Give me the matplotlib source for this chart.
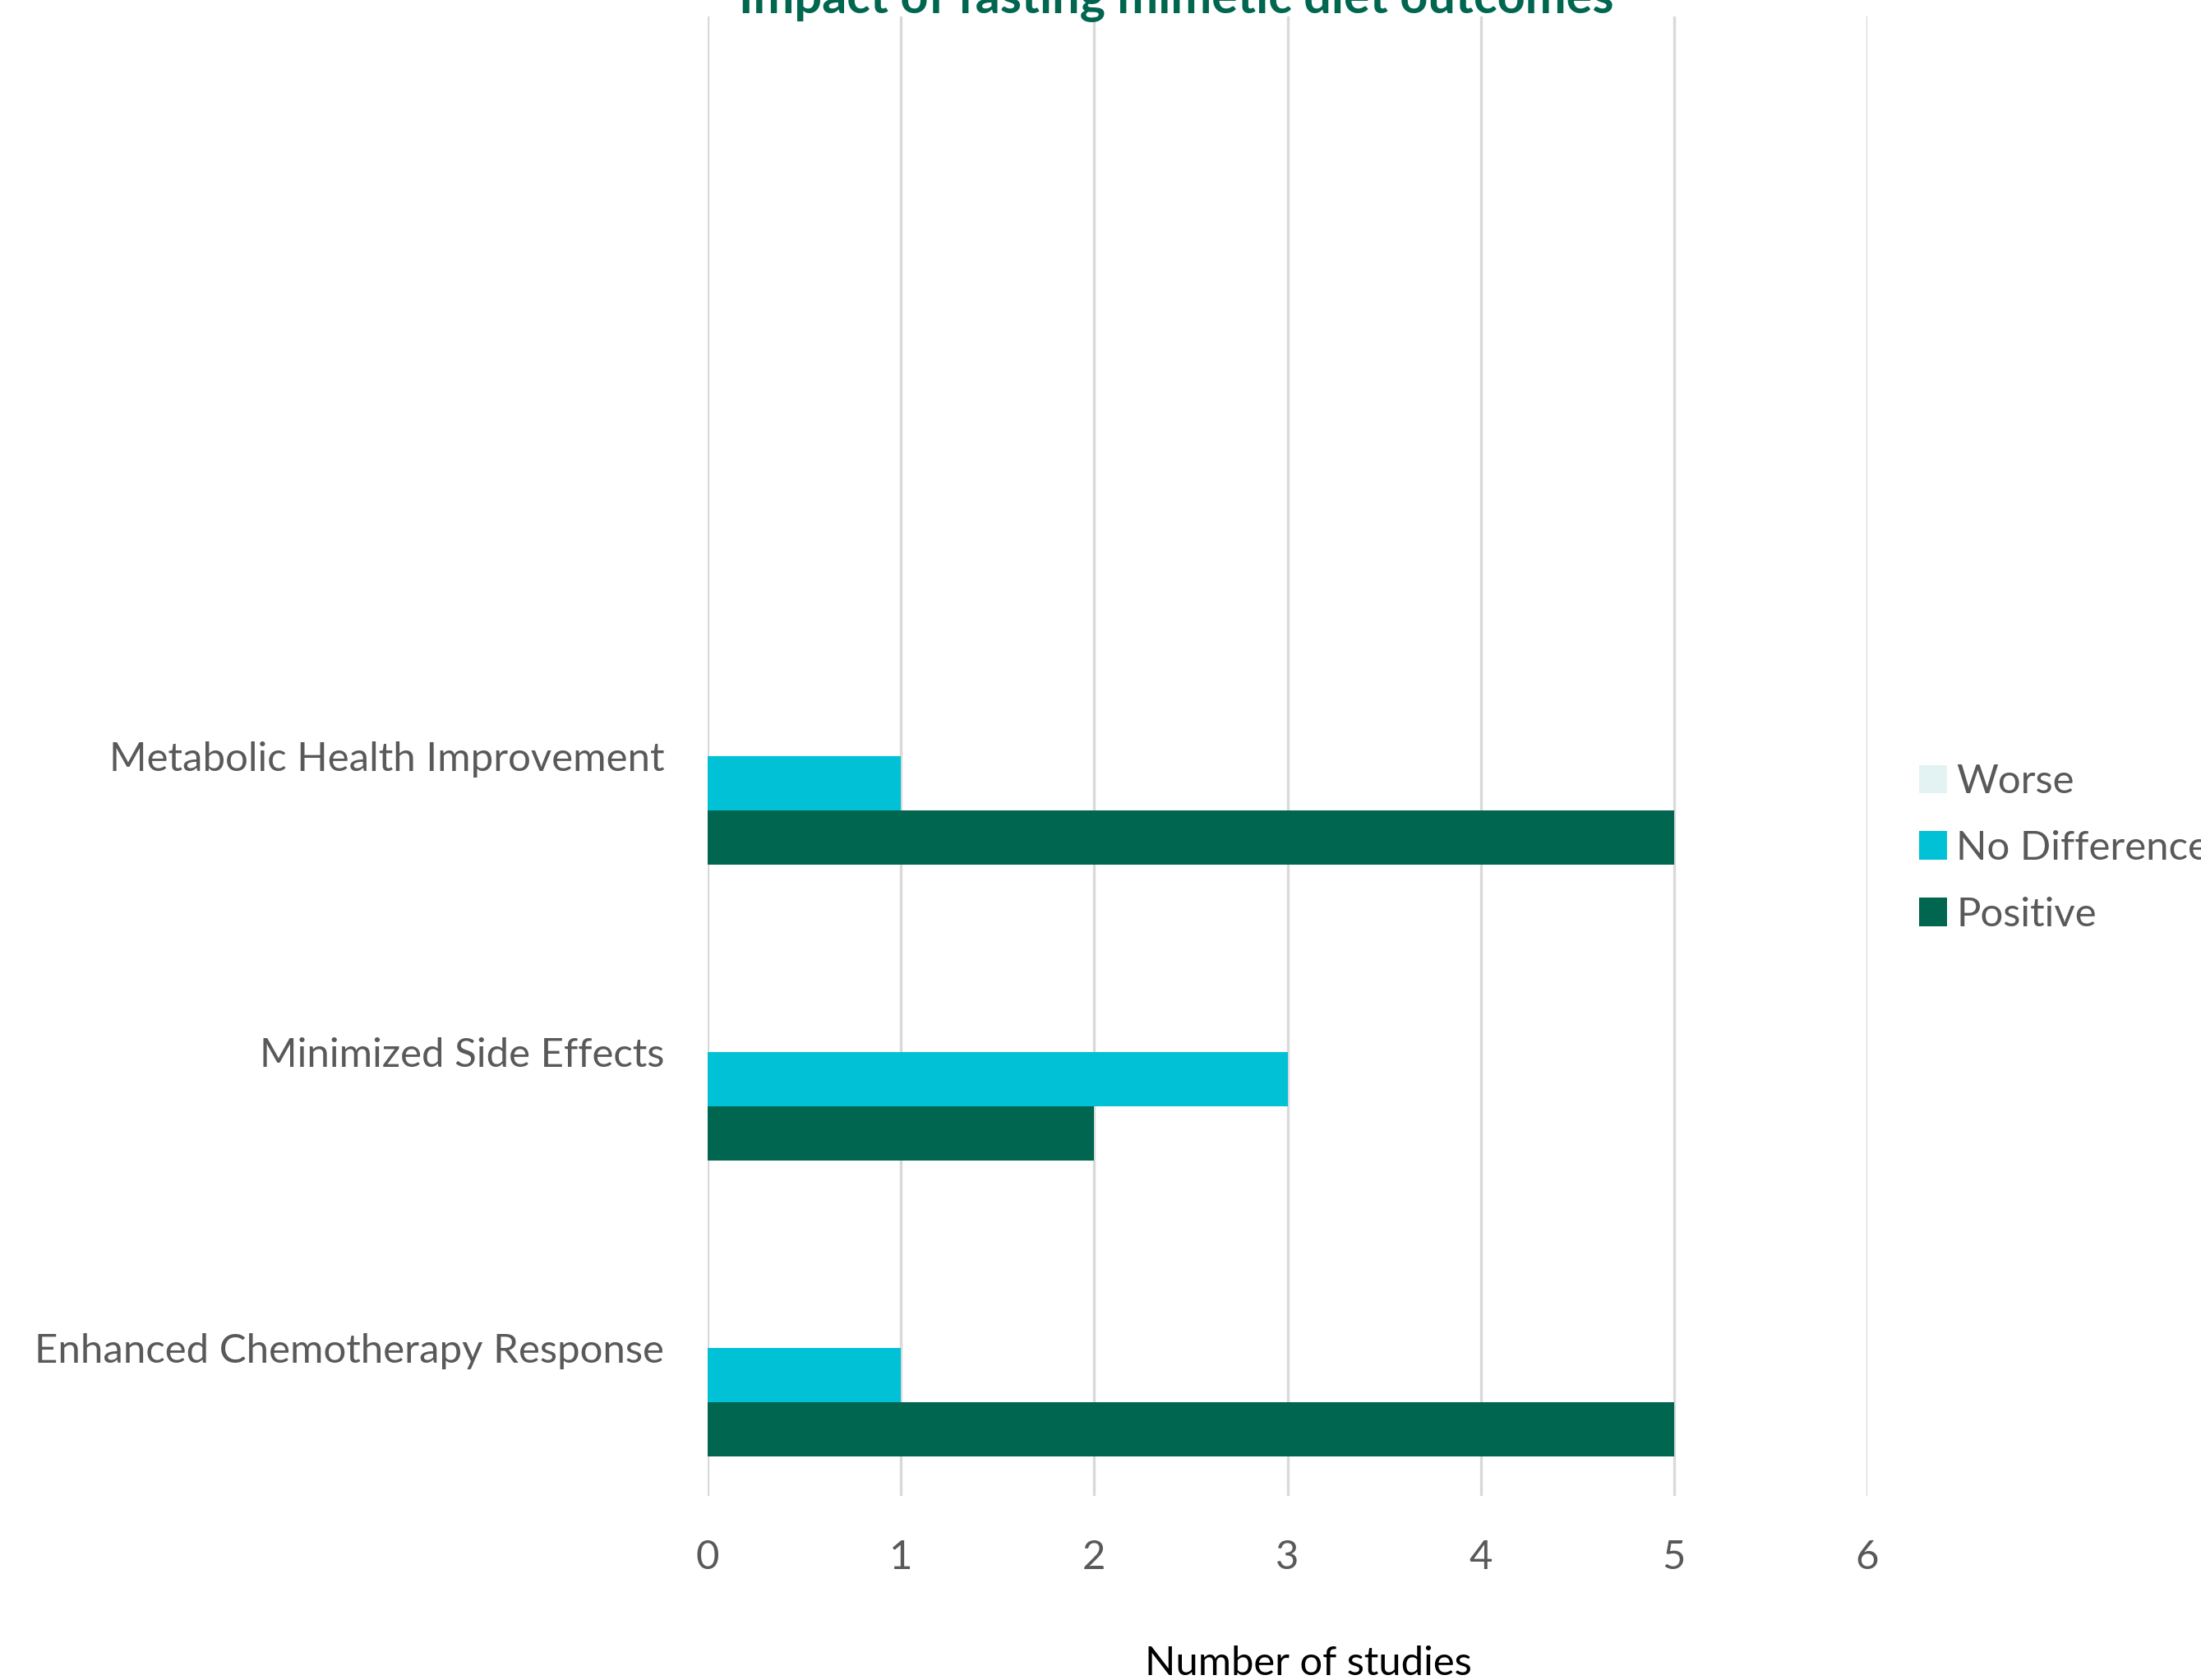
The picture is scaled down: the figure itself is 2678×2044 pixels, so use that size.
import matplotlib
matplotlib.use("Agg")
import matplotlib.pyplot as plt
import numpy as np

# Outcome categories, listed bottom to top as drawn
categories = ["Enhanced Chemotherapy Response", "Minimized Side Effects", "Metabolic Health Improvement"]
series_names = ["Worse", "No Difference", "Positive"]
worse = [0, 0, 0]
no_difference = [1, 3, 1]
positive = [5, 2, 5]
x_ticks = [0, 1, 2, 3, 4, 5, 6]

title = "Impact of fasting mimetic diet outcomes"
x_label = "Number of studies"

colors = {"Worse": "#E3F3F3", "No Difference": "#00C1D6", "Positive": "#006650"}
text_grey = "#595959"
grid_grey = "#D9D9D9"
font = "Lato"
label_size = 17.7

plt.rcParams["font.family"] = [font, "DejaVu Sans"]

W, H, DPI = 2678, 2044, 200
fig = plt.figure(figsize=(W / DPI, H / DPI), dpi=DPI)

left, right = 861 / W, 2272 / W
top, bottom = 1 - 20 / H, 1 - 1820 / H
ax = fig.add_axes([left, bottom, right - left, top - bottom])

# Five category slots; the two upper ones stay empty
n_slots = 5
bar_h = 0.183
y = np.arange(len(categories))
series_vals = {"Worse": worse, "No Difference": no_difference, "Positive": positive}
slot_index = {"Positive": 0, "No Difference": 1, "Worse": 2}

handles = {}
for name in series_names:
    off = (slot_index[name] - 1.5) * bar_h
    handles[name] = ax.barh(y + off, series_vals[name], height=bar_h,
                            color=colors[name], edgecolor="none", zorder=3)

ax.set_xlim(x_ticks[0], x_ticks[-1])
ax.set_ylim(-0.5, n_slots - 0.5)
ax.set_xticks(x_ticks)
ax.set_xticklabels([str(t) for t in x_ticks])
ax.set_yticks(y)
ax.set_yticklabels(categories)

for s in ax.spines.values():
    s.set_visible(False)
ax.grid(axis="x", color=grid_grey, linewidth=1.2, zorder=0)
ax.grid(axis="y", visible=False)
ax.tick_params(axis="both", length=0, labelcolor=text_grey, labelsize=label_size)
ax.tick_params(axis="x", pad=19)
ax.tick_params(axis="y", pad=19)

fig.text(1592 / W, 1 - 2038 / H, x_label, ha="center", va="baseline",
         fontsize=17.6, color="black")
fig.text(1431 / W, 1 - 16 / H, title, ha="center", va="baseline",
         fontsize=21.4, fontweight="bold", color="#00664F")

fig.legend([handles[n] for n in series_names], series_names,
           loc="upper left", bbox_to_anchor=(2335 / W, 1 - 929 / H),
           frameon=False, fontsize=label_size, labelcolor=text_grey,
           handlelength=0.7, handleheight=0.7, handletextpad=0.22,
           labelspacing=0.75, borderpad=0, borderaxespad=0)

fig.savefig("out.png", dpi=DPI)
